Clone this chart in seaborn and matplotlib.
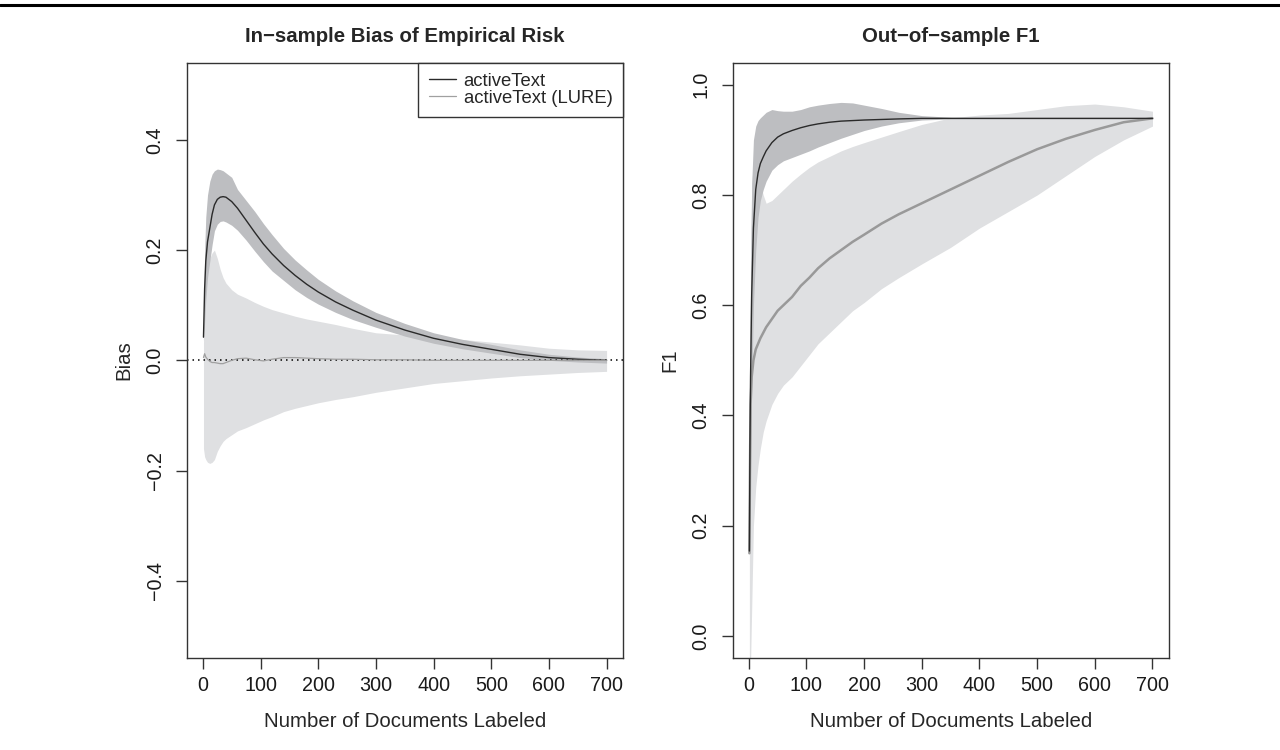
import numpy as np
import pandas as pd
import matplotlib
matplotlib.use("Agg")
import matplotlib.pyplot as plt
from matplotlib.lines import Line2D
import seaborn as sns

# Left panel: in-sample bias of empirical risk
docs_l = [1, 3, 5, 8, 12, 16, 20, 25, 30, 35, 40, 50, 60, 75, 90, 105, 120, 140, 160,
          180, 200, 230, 260, 300, 350, 400, 450, 500, 550, 600, 650, 700]
bias_at = [0.042, 0.13, 0.18, 0.215, 0.24, 0.265, 0.282, 0.292, 0.296, 0.297, 0.296, 0.288,
           0.276, 0.254, 0.232, 0.211, 0.193, 0.172, 0.154, 0.138, 0.124, 0.106, 0.091,
           0.073, 0.055, 0.040, 0.029, 0.020, 0.011, 0.005, 0.002, 0.0]
bias_at_hi = [0.05, 0.2, 0.26, 0.30, 0.325, 0.338, 0.344, 0.347, 0.346, 0.344, 0.340, 0.332,
              0.31, 0.29, 0.27, 0.248, 0.228, 0.203, 0.182, 0.164, 0.147, 0.126, 0.108,
              0.087, 0.067, 0.050, 0.038, 0.029, 0.019, 0.011, 0.006, 0.003]
bias_at_lo = [0.035, 0.07, 0.11, 0.15, 0.18, 0.21, 0.235, 0.247, 0.252, 0.253, 0.251, 0.245,
              0.236, 0.218, 0.198, 0.179, 0.162, 0.145, 0.128, 0.114, 0.102, 0.087, 0.074,
              0.060, 0.044, 0.031, 0.021, 0.013, 0.005, 0.0, -0.003, -0.005]
bias_lure = [0.005, 0.012, 0.006, 0.002, -0.002, -0.004, -0.004, -0.005, -0.006, -0.006,
             -0.004, 0.0, 0.003, 0.004, 0.001, -0.001, 0.002, 0.005, 0.005, 0.004, 0.003,
             0.002, 0.002, 0.001, 0.001, 0.0, 0.0, 0.0, 0.0, 0.0, 0.0, 0.0]
bias_lure_hi = [0.03, 0.10, 0.14, 0.17, 0.185, 0.195, 0.200, 0.185, 0.165, 0.15, 0.14, 0.128,
                0.12, 0.113, 0.105, 0.098, 0.092, 0.086, 0.080, 0.075, 0.071, 0.065, 0.058,
                0.050, 0.046, 0.042, 0.038, 0.033, 0.028, 0.022, 0.019, 0.018]
bias_lure_lo = [-0.16, -0.175, -0.18, -0.185, -0.187, -0.185, -0.18, -0.165, -0.155, -0.147,
                -0.142, -0.135, -0.128, -0.122, -0.115, -0.108, -0.102, -0.093, -0.087,
                -0.082, -0.077, -0.071, -0.066, -0.058, -0.050, -0.042, -0.037, -0.032,
                -0.028, -0.025, -0.022, -0.020]

# Right panel: out-of-sample F1
docs_r = [1, 2, 3, 5, 8, 12, 16, 20, 25, 30, 40, 50, 60, 75, 90, 105, 120, 140, 160, 180,
          200, 230, 260, 300, 350, 400, 450, 500, 550, 600, 650, 700]
f1_at = [0.154, 0.35, 0.47, 0.62, 0.74, 0.81, 0.84, 0.857, 0.869, 0.880, 0.895, 0.905, 0.911,
         0.917, 0.922, 0.926, 0.929, 0.932, 0.934, 0.935, 0.936, 0.937, 0.938, 0.939, 0.939,
         0.939, 0.939, 0.939, 0.939, 0.939, 0.939, 0.939]
f1_at_hi = [0.16, 0.5, 0.65, 0.82, 0.9, 0.925, 0.935, 0.94, 0.945, 0.95, 0.955, 0.953, 0.952,
            0.952, 0.955, 0.96, 0.963, 0.966, 0.968, 0.967, 0.963, 0.957, 0.95, 0.944, 0.941,
            0.940, 0.940, 0.940, 0.940, 0.940, 0.940, 0.940]
f1_at_lo = [0.15, 0.2, 0.3, 0.45, 0.6, 0.7, 0.76, 0.79, 0.81, 0.825, 0.845, 0.855, 0.862,
            0.868, 0.874, 0.88, 0.887, 0.895, 0.903, 0.91, 0.917, 0.925, 0.931, 0.936, 0.938,
            0.938, 0.938, 0.938, 0.938, 0.938, 0.938, 0.938]
f1_lure = [0.15, 0.30, 0.42, 0.47, 0.50, 0.52, 0.53, 0.54, 0.55, 0.56, 0.575, 0.59, 0.60,
           0.615, 0.635, 0.65, 0.667, 0.685, 0.70, 0.715, 0.728, 0.748, 0.765, 0.785, 0.81,
           0.835, 0.86, 0.883, 0.902, 0.918, 0.932, 0.939]
f1_lure_hi = [0.16, 0.5, 0.7, 0.82, 0.86, 0.87, 0.85, 0.82, 0.80, 0.785, 0.79, 0.80, 0.81,
              0.825, 0.838, 0.85, 0.86, 0.87, 0.88, 0.888, 0.895, 0.905, 0.915, 0.928, 0.94,
              0.945, 0.948, 0.955, 0.962, 0.965, 0.96, 0.952]
f1_lure_lo = [-0.05, -0.05, -0.05, 0.05, 0.2, 0.27, 0.31, 0.34, 0.37, 0.39, 0.42, 0.44, 0.455,
              0.47, 0.49, 0.51, 0.53, 0.55, 0.57, 0.59, 0.605, 0.63, 0.65, 0.675, 0.705, 0.74,
              0.77, 0.80, 0.835, 0.87, 0.9, 0.925]

left_df = pd.DataFrame({"docs": docs_l, "at": bias_at, "lure": bias_lure})
right_df = pd.DataFrame({"docs": docs_r, "at": f1_at, "lure": f1_lure})

sns.set_theme(style="ticks")
plt.rcParams["font.family"] = ["Liberation Sans", "DejaVu Sans"]
plt.rcParams["axes.unicode_minus"] = True

DARK_BAND = "#bdbec1"
LIGHT_BAND = "#dfe0e2"
AXIS_COL = "#333333"

fig = plt.figure(figsize=(12.8, 7.5), dpi=100)
ax1 = fig.add_axes([0.1459, 0.1227, 0.3406, 0.7937])
ax2 = fig.add_axes([0.5724, 0.1227, 0.3406, 0.7937])

# rule across the top of the page
fig.add_artist(Line2D([0, 1], [0.993, 0.993], transform=fig.transFigure, color="black", lw=2.2))

## Left panel
ax1.fill_between(docs_l, bias_lure_lo, bias_lure_hi, color=LIGHT_BAND, lw=0)
ax1.fill_between(docs_l, bias_at_lo, bias_at_hi, color=DARK_BAND, lw=0)
ax1.axhline(0, color="black", lw=1.1, ls=(0, (1, 2.6)))
sns.lineplot(data=left_df, x="docs", y="at", ax=ax1, color="#2a2a2a", lw=1.0,
             label="activeText")
sns.lineplot(data=left_df, x="docs", y="lure", ax=ax1, color="#a0a0a0", lw=0.9,
             label="activeText (LURE)")
ax1.set_ylim(-0.54, 0.54)
ax1.set_yticks([-0.4, -0.2, 0.0, 0.2, 0.4])
ax1.set_yticklabels(["\u22120.4", "\u22120.2", "0.0", "0.2", "0.4"])
ax1.set_ylabel("Bias")
ax1.set_title("In\u2212sample Bias of Empirical Risk", fontweight="bold", fontsize=14.7, pad=15)
leg = ax1.legend(loc="upper right", borderaxespad=0, fancybox=False, framealpha=1,
                 edgecolor=AXIS_COL, fontsize=13.3, handlelength=1.5, handletextpad=0.4,
                 labelspacing=0.0, borderpad=0.55)
leg.get_frame().set_linewidth(1.0)

## Right panel
ax2.fill_between(docs_r, f1_lure_lo, f1_lure_hi, color=LIGHT_BAND, lw=0)
ax2.fill_between(docs_r, f1_at_lo, f1_at_hi, color=DARK_BAND, lw=0)
sns.lineplot(data=right_df, x="docs", y="lure", ax=ax2, color="#999999", lw=1.8)
sns.lineplot(data=right_df, x="docs", y="at", ax=ax2, color="#2a2a2a", lw=1.0)
ax2.set_ylim(-0.04, 1.04)
ax2.set_yticks([0.0, 0.2, 0.4, 0.6, 0.8, 1.0])
ax2.set_yticklabels(["0.0", "0.2", "0.4", "0.6", "0.8", "1.0"])
ax2.set_ylabel("F1")
ax2.set_title("Out\u2212of\u2212sample F1", fontweight="bold", fontsize=14.7, pad=15)

for ax in (ax1, ax2):
    ax.set_xlim(-28, 728)
    ax.set_xticks(range(0, 701, 100))
    ax.set_xlabel("Number of Documents Labeled", fontsize=14.7, labelpad=12)
    ax.yaxis.label.set_fontsize(14.7)
    ax.yaxis.labelpad = 9
    ax.tick_params(axis="both", labelsize=14.2, length=8, width=1.0, color=AXIS_COL,
                   labelcolor="#1a1a1a")
    ax.tick_params(axis="x", pad=5)
    ax.tick_params(axis="y", pad=8)
    for lab in ax.get_yticklabels():
        lab.set_rotation(90)
        lab.set_va("center")
    for sp in ax.spines.values():
        sp.set_visible(True)
        sp.set_color(AXIS_COL)
        sp.set_linewidth(1.0)
    ax.set_facecolor("white")

fig.savefig("out.png", dpi=100)
